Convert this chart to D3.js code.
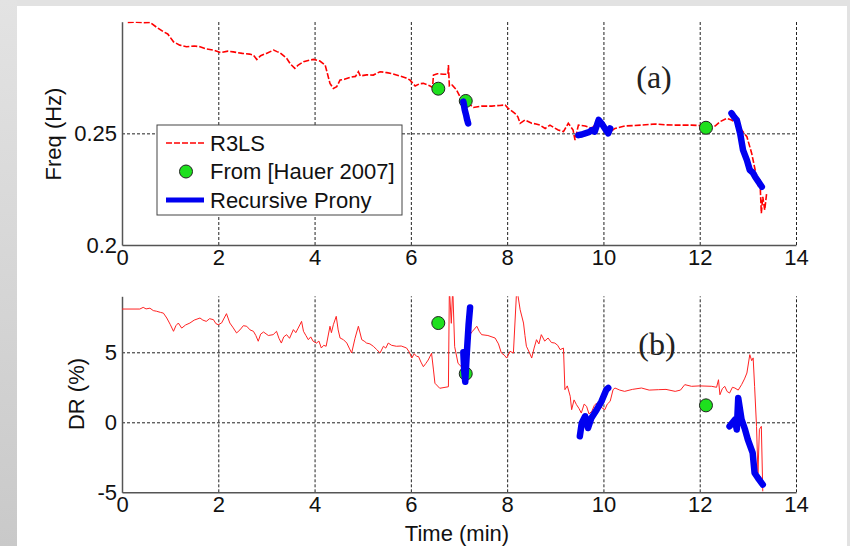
<!DOCTYPE html>
<html>
<head>
<meta charset="utf-8">
<script src="https://cdn.jsdelivr.net/npm/d3@7"></script>
<style>
  body { margin: 0; background: #e2e2e2; }
  svg { display: block; }
</style>
</head>
<body>
<div id="chart"></div>
<script>
// ---- data ----
// R3LS frequency estimate (panel a): [time min, freq Hz]
var r3lsFreq = [
  [0.12,0.2997],[0.3,0.2998],[0.45,0.2996],[0.58,0.2997],[0.72,0.2975],[0.86,0.2955],[0.95,0.2945],
  [1.07,0.291],[1.2,0.2895],[1.34,0.2888],[1.5,0.2891],[1.62,0.2888],[1.75,0.2878],[1.9,0.2873],
  [2.05,0.2862],[2.2,0.2868],[2.31,0.2865],[2.5,0.2858],[2.65,0.2855],[2.73,0.285],[2.8,0.2831],
  [2.88,0.2848],[3.0,0.2858],[3.15,0.2873],[3.22,0.2866],[3.28,0.2861],[3.42,0.2836],[3.5,0.281],
  [3.59,0.2791],[3.66,0.2806],[3.77,0.2821],[3.9,0.2828],[3.98,0.2831],[4.11,0.2824],[4.22,0.2806],
  [4.32,0.2724],[4.39,0.2701],[4.46,0.2709],[4.53,0.2739],[4.62,0.2742],[4.74,0.2751],[4.85,0.2755],
  [4.91,0.2776],[4.95,0.2757],[5.08,0.2762],[5.22,0.2761],[5.36,0.2776],[5.5,0.2772],[5.65,0.2765],
  [5.77,0.2757],[5.9,0.2748],[5.98,0.2739],[6.09,0.2712],[6.18,0.2722],[6.26,0.2724],[6.4,0.2712],
  [6.45,0.2706],[6.47,0.2761],[6.55,0.2767],[6.68,0.2765],[6.77,0.2765],[6.78,0.2806],[6.8,0.2712],
  [6.86,0.2716],[6.95,0.2694],[7.02,0.2664],[7.1,0.2652],[7.18,0.2636],[7.3,0.2616],[7.47,0.2622],
  [7.68,0.2622],[7.85,0.2625],[7.96,0.2627],[8.02,0.2612],[8.16,0.259],[8.22,0.2575],[8.27,0.2545],
  [8.37,0.256],[8.51,0.2545],[8.6,0.2542],[8.68,0.2537],[8.79,0.2522],[8.89,0.2537],[8.98,0.2525],
  [9.06,0.2515],[9.17,0.2508],[9.27,0.2545],[9.37,0.2515],[9.41,0.247],[9.48,0.2537],[9.62,0.2533],
  [9.76,0.2522],[9.9,0.256],[10.03,0.2537],[10.14,0.2507],[10.24,0.2522],[10.45,0.2533],[10.8,0.2537],
  [11.07,0.2542],[11.3,0.2538],[11.49,0.2537],[11.83,0.2537],[12.0,0.2535],[12.13,0.2528],[12.32,0.2533],
  [12.42,0.2552],[12.56,0.2567],[12.66,0.256],[12.77,0.2545],[12.87,0.2515],[12.98,0.2485],[13.08,0.241],
  [13.18,0.2306],[13.22,0.2261],[13.25,0.2295],[13.28,0.2142],[13.31,0.2216],[13.35,0.2157],[13.39,0.2231]
];

// R3LS damping ratio (panel b): [time min, DR %]
var r3lsDR = [
  [0.0,8.09],[0.37,8.09],[0.44,8.21],[0.5,8.1],[0.58,8.15],[0.65,7.98],[0.72,7.93],[0.8,7.85],[0.86,7.8],
  [0.93,7.45],[1.0,7.0],[1.07,6.5],[1.12,6.9],[1.17,7.09],[1.24,6.73],[1.32,6.95],[1.41,7.09],[1.5,7.3],
  [1.62,7.45],[1.68,7.3],[1.75,7.21],[1.82,7.4],[1.9,7.33],[1.95,7.05],[2.0,6.97],[2.07,7.1],[2.17,7.76],
  [2.24,7.09],[2.3,6.8],[2.38,6.38],[2.45,6.6],[2.52,6.9],[2.59,6.86],[2.66,6.6],[2.73,6.5],[2.78,6.2],
  [2.83,5.79],[2.88,6.3],[2.94,6.45],[3.04,6.2],[3.14,6.26],[3.21,6.5],[3.26,6.0],[3.31,5.66],[3.36,6.1],
  [3.42,6.26],[3.48,6.0],[3.56,6.62],[3.61,6.4],[3.66,6.73],[3.73,7.21],[3.77,6.5],[3.82,6.2],[3.87,5.9],
  [3.92,6.1],[3.97,5.79],[4.04,5.66],[4.09,5.8],[4.14,5.31],[4.19,5.5],[4.24,5.43],[4.32,6.86],[4.35,6.4],
  [4.39,6.97],[4.45,7.57],[4.49,6.6],[4.53,6.02],[4.6,5.9],[4.67,5.66],[4.72,5.3],[4.77,4.95],[4.84,6.0],
  [4.91,6.86],[4.98,5.9],[5.03,5.8],[5.08,5.66],[5.15,5.6],[5.22,5.43],[5.29,5.2],[5.36,4.95],[5.43,5.43],
  [5.48,5.3],[5.53,5.66],[5.6,5.5],[5.7,5.43],[5.8,5.45],[5.91,5.31],[5.97,5.0],[6.02,4.59],[6.07,4.9],
  [6.12,4.71],[6.16,4.69],[6.21,4.3],[6.26,3.97],[6.31,4.2],[6.36,4.45],[6.43,4.93],[6.47,3.74],[6.5,2.79],
  [6.6,2.43],[6.78,2.54],[6.8,9.6],[6.84,7.07],[6.87,9.6],[6.91,5.4],[6.98,4.21],[7.05,3.97],[7.09,5.04],
  [7.13,3.6],[7.2,6.14],[7.28,6.5],[7.37,6.86],[7.42,6.5],[7.47,6.26],[7.6,6.2],[7.75,6.02],[7.82,5.6],
  [7.88,4.95],[7.94,4.8],[7.99,4.59],[8.06,5.07],[8.13,4.95],[8.2,9.6],[8.27,8.04],[8.34,7.09],[8.37,6.2],
  [8.4,5.43],[8.46,5.0],[8.51,4.59],[8.56,5.3],[8.61,5.9],[8.66,5.6],[8.71,6.26],[8.78,5.8],[8.85,6.02],
  [8.92,5.7],[8.99,5.66],[9.05,5.5],[9.1,5.19],[9.17,5.3],[9.2,2.33],[9.25,2.6],[9.31,1.86],[9.34,0.9],
  [9.39,1.6],[9.44,1.26],[9.49,1.0],[9.54,0.66],[9.6,1.3],[9.65,1.14],[9.7,0.6],[9.76,0.79],[9.81,1.2],
  [9.86,1.38],[9.94,1.1],[10.03,0.9],[10.08,1.3],[10.14,1.5],[10.2,2.33],[10.24,2.45],[10.34,2.3],
  [10.44,2.21],[10.6,2.35],[10.79,2.45],[10.95,2.3],[11.14,2.33],[11.3,2.35],[11.49,2.21],[11.6,2.3],
  [11.69,2.69],[11.83,2.57],[12.0,2.6],[12.25,2.57],[12.35,2.5],[12.39,3.04],[12.42,1.97],[12.47,2.4],
  [12.52,2.57],[12.57,2.2],[12.62,2.09],[12.68,2.5],[12.73,2.45],[12.8,2.3],[12.87,2.69],[12.93,3.1],
  [12.98,3.52],[13.04,4.83],[13.08,4.4],[13.11,4.6],[13.14,2.57],[13.18,-0.29],[13.21,-3.62],[13.24,-0.5],
  [13.28,-0.29],[13.31,-4.93]
];

// Recursive Prony segments
var pronyFreq = [
  [[7.09,0.2642],[7.12,0.2605],[7.15,0.258],[7.17,0.256],[7.19,0.2545]],
  [[9.48,0.2492],[9.55,0.2495],[9.62,0.25],[9.7,0.2505],[9.76,0.2515],[9.82,0.2508],[9.9,0.256],
   [9.96,0.2545],[10.03,0.2522],[10.1,0.25],[10.14,0.2522]],
  [[12.66,0.259],[12.72,0.2572],[12.77,0.2559],[12.84,0.25],[12.9,0.2425],[12.98,0.238],[13.04,0.2336],
   [13.1,0.2325],[13.15,0.2306],[13.22,0.2283],[13.29,0.2261]]
];
var pronyDR = [
  [[7.09,5.0],[7.11,3.6],[7.13,2.9],[7.16,4.8],[7.2,7.0],[7.23,8.2]],
  [[9.51,-1.0],[9.55,-0.05],[9.62,0.43],[9.68,-0.41],[9.75,0.31],[9.86,0.9],[9.96,1.5],[10.06,2.33],[10.1,2.45]],
  [[12.62,-0.29],[12.73,0.19],[12.77,-0.52],[12.8,1.74],[12.87,0.19],[12.94,-0.5],[13.0,-1.24],[13.1,-2.19],
   [13.14,-3.62],[13.21,-3.98],[13.31,-4.45]]
];

// From [Hauer 2007]
var hauerTime = [6.57, 7.14, 12.13];
var hauerFreq = [0.27, 0.2645, 0.2525];
var hauerDR = [7.09, 3.47, 1.21];

var xTicks = [0, 2, 4, 6, 8, 10, 12, 14];
var freqTicks = [0.2, 0.25];
var freqTickLabels = ["0.2", "0.25"];
var drTicks = [-5, 0, 5];
var drTickLabels = ["-5", "0", "5"];

// ---- drawing ----
var sans = "'Liberation Sans', Arial, sans-serif";
var serif = "'Liberation Serif', 'Times New Roman', serif";
var fs = 22;
var svgWidth = 850, svgHeight = 546;
var svg = d3.select("#chart").append("svg")
    .attr("width", svgWidth)
    .attr("height", svgHeight);

// grey frame with a white sheet
var defs = svg.append("defs");
var grad = defs.append("linearGradient").attr("id", "side")
    .attr("x1", 0).attr("y1", 0).attr("x2", 0).attr("y2", 1);
grad.append("stop").attr("offset", "0%").attr("stop-color", "#e3e3e3");
grad.append("stop").attr("offset", "100%").attr("stop-color", "#c9c9c9");
svg.append("rect").attr("width", svgWidth).attr("height", svgHeight).attr("fill", "#e2e2e2");
svg.append("rect").attr("width", 17).attr("height", svgHeight).attr("fill", "url(#side)");
svg.append("rect").attr("x", 17).attr("y", 6).attr("width", 830).attr("height", 540).attr("fill", "#fff");

var x = d3.scaleLinear().domain([0, 14]).range([122, 796]);
var yF = d3.scaleLinear().domain([0.2, 0.3]).range([245, 21.7]);
var yD = d3.scaleLinear().domain([-5, 9]).range([492.3, 296.3]);

function drawPanel(y, ticks, labels, gridVals, id) {
    var g = svg.append("g");
    var top = y.range()[1], bottom = y.range()[0];

    defs.append("clipPath").attr("id", id)
        .append("rect").attr("x", 122).attr("y", top)
        .attr("width", 674).attr("height", bottom - top);

    // vertical grid
    g.append("g")
        .attr("transform", `translate(0, ${bottom})`)
        .call(d3.axisBottom(x).tickValues(xTicks.slice(1)).tickSize(-(bottom - top)).tickFormat(""))
        .call(a => a.select(".domain").remove())
        .call(a => a.selectAll("line").attr("stroke", "#222").attr("stroke-dasharray", "3,2"));
    // horizontal grid
    g.append("g")
        .attr("transform", "translate(122, 0)")
        .call(d3.axisLeft(y).tickValues(gridVals).tickSize(-674).tickFormat(""))
        .call(a => a.select(".domain").remove())
        .call(a => a.selectAll("line").attr("stroke", "#222").attr("stroke-dasharray", "3,2"));

    // axes
    var xa = g.append("g")
        .attr("transform", `translate(0, ${bottom})`)
        .call(d3.axisBottom(x).tickValues(xTicks).tickSize(0).tickPadding(4).tickFormat(d => String(d)));
    xa.select(".domain").attr("stroke", "#555").attr("stroke-width", 1.5);
    xa.selectAll("text").attr("font-size", fs).attr("fill", "#111").attr("font-family", sans);

    var ya = g.append("g")
        .attr("transform", "translate(122, 0)")
        .call(d3.axisLeft(y).tickValues(ticks).tickSize(0).tickPadding(5)
            .tickFormat((d, i) => labels[i]));
    ya.select(".domain").attr("stroke", "#555").attr("stroke-width", 1.5);
    ya.selectAll("text").attr("font-size", fs).attr("fill", "#111").attr("font-family", sans);
    return g;
}

drawPanel(yF, freqTicks, freqTickLabels, [0.25], "clipA");
drawPanel(yD, drTicks, drTickLabels, [0, 5], "clipB");

var lineF = d3.line().x(d => x(d[0])).y(d => yF(d[1]));
var lineD = d3.line().x(d => x(d[0])).y(d => yD(d[1]));

// panel (a)
var pa = svg.append("g").attr("clip-path", "url(#clipA)");
pa.append("path").datum(r3lsFreq).attr("d", lineF)
    .attr("fill", "none").attr("stroke", "#f00").attr("stroke-width", 1.6)
    .attr("stroke-dasharray", "6,2");
pa.selectAll("circle").data(hauerTime).join("circle")
    .attr("cx", d => x(d)).attr("cy", (d, i) => yF(hauerFreq[i])).attr("r", 6.5)
    .attr("fill", "#1ee01e").attr("stroke", "#222").attr("stroke-width", 1);
pa.selectAll(".prony").data(pronyFreq).join("path").attr("class", "prony")
    .attr("d", lineF).attr("fill", "none").attr("stroke", "#0000f0")
    .attr("stroke-width", 6.5).attr("stroke-linejoin", "round").attr("stroke-linecap", "round");

// panel (b)
var pb = svg.append("g").attr("clip-path", "url(#clipB)");
pb.append("path").datum(r3lsDR).attr("d", lineD)
    .attr("fill", "none").attr("stroke", "#f22").attr("stroke-width", 1);
pb.selectAll("circle").data(hauerTime).join("circle")
    .attr("cx", d => x(d)).attr("cy", (d, i) => yD(hauerDR[i])).attr("r", 6.5)
    .attr("fill", "#1ee01e").attr("stroke", "#222").attr("stroke-width", 1);
pb.selectAll(".prony").data(pronyDR).join("path").attr("class", "prony")
    .attr("d", lineD).attr("fill", "none").attr("stroke", "#0000f0")
    .attr("stroke-width", 6.5).attr("stroke-linejoin", "round").attr("stroke-linecap", "round");

// axis titles
svg.append("text").attr("transform", "translate(61, 134) rotate(-90)").attr("font-family", sans)
    .attr("text-anchor", "middle").attr("font-size", fs).attr("fill", "#111").text("Freq (Hz)");
svg.append("text").attr("transform", "translate(84, 394) rotate(-90)").attr("font-family", sans)
    .attr("text-anchor", "middle").attr("font-size", fs).attr("fill", "#111").text("DR (%)");
svg.append("text").attr("x", 457).attr("y", 541).attr("font-family", sans)
    .attr("text-anchor", "middle").attr("font-size", fs).attr("fill", "#111").text("Time (min)");

// panel tags
svg.append("text").attr("x", 654).attr("y", 88).attr("text-anchor", "middle")
    .attr("font-family", serif).attr("font-size", 32).attr("fill", "#222").text("(a)");
svg.append("text").attr("x", 657).attr("y", 355).attr("text-anchor", "middle")
    .attr("font-family", serif).attr("font-size", 32).attr("fill", "#222").text("(b)");

// legend
var lg = svg.append("g");
lg.append("rect").attr("x", 157).attr("y", 125).attr("width", 245).attr("height", 90)
    .attr("fill", "#fff").attr("stroke", "#444").attr("stroke-width", 1);
lg.append("line").attr("x1", 166).attr("x2", 204).attr("y1", 143).attr("y2", 143)
    .attr("stroke", "#f00").attr("stroke-width", 1.6).attr("stroke-dasharray", "6,2");
lg.append("circle").attr("cx", 186).attr("cy", 171.5).attr("r", 6.5)
    .attr("fill", "#1ee01e").attr("stroke", "#222").attr("stroke-width", 1);
lg.append("line").attr("x1", 166).attr("x2", 204).attr("y1", 200).attr("y2", 200)
    .attr("stroke", "#0000f0").attr("stroke-width", 5);
var legendLabels = ["R3LS", "From [Hauer 2007]", "Recursive Prony"];
lg.selectAll(".lab").data(legendLabels).join("text").attr("class", "lab")
    .attr("x", 210).attr("y", (d, i) => 151 + i * 28.4).attr("font-family", sans)
    .attr("font-size", fs).attr("fill", "#111").text(d => d);
</script>
</body>
</html>
